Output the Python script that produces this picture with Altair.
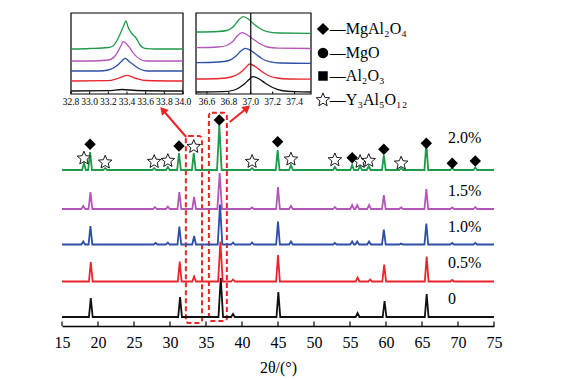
import altair as alt
import pandas as pd

FONT = "Liberation Serif"

# ---------------- main XRD patterns (2theta, intensity above own baseline) -------------
SERIES = ["2.0%", "1.5%", "1.0%", "0.5%", "0"]
COLORS = ["#1f9a4a", "#b256b8", "#2d4fa5", "#e8242c", "#111111"]
OFFSETS = [147, 108, 72.5, 35.5, 0]
LABEL_Y = [179, 126, 90, 54, 18]
LABEL_X = [68.6, 68.6, 68.6, 68.6, 68.6]

POS_20 = [18.05, 18.9, 21.0, 27.8, 29.7, 31.25, 33.3, 36.85, 41.4, 44.95, 46.8, 52.9, 55.3, 56.4, 57.6, 59.7, 62.1, 65.6, 69.2, 72.4]
H_20 = [7, 18, 2, 2, 3, 17, 17, 45, 2, 20, 5, 3, 5, 4, 4, 15, 2, 27, 2, 2.5]
POS_15 = [17.95, 18.95, 27.9, 29.7, 31.3, 33.35, 36.9, 41.4, 45.0, 46.8, 52.9, 55.3, 56.0, 57.65, 59.7, 62.1, 65.6, 69.2, 72.4]
H_15 = [3, 17, 2, 2.5, 17, 12, 36, 1.5, 22, 3, 2, 4, 4, 4, 14, 1.5, 20, 1.5, 2]
POS_10 = [17.95, 18.95, 28.0, 29.7, 31.3, 33.35, 36.95, 38.75, 41.4, 45.0, 46.8, 52.9, 55.3, 56.0, 57.65, 59.7, 62.1, 65.6, 69.2, 72.4]
H_10 = [3, 18.5, 1.5, 2, 18, 8.5, 40, 2, 2, 23, 3, 1.5, 3, 3, 3, 15, 1, 21, 1.5, 1.5]
POS_05 = [19.0, 31.35, 33.35, 37.0, 38.75, 45.0, 56.05, 57.8, 59.75, 65.65, 69.2]
H_05 = [19.5, 20, 5, 40, 2, 26.5, 4, 2, 17, 25, 1.5]
POS_00 = [19.0, 31.4, 37.05, 38.75, 45.05, 56.05, 59.8, 65.65]
H_00 = [19, 20, 39, 3, 25, 4, 16, 23]

PEAK_POS = [POS_20, POS_15, POS_10, POS_05, POS_00]
PEAK_H = [H_20, H_15, H_10, H_05, H_00]

X_TICKS = [15, 20, 25, 30, 35, 40, 45, 50, 55, 60, 65, 70, 75]

# phase markers on the 2.0% pattern
DIAMOND_X = [18.9, 31.25, 36.85, 44.95, 55.3, 59.7, 65.6, 69.2, 72.4]
DIAMOND_Y = [172.7, 171, 197, 175.3, 159.3, 167.7, 173.7, 153.7, 156]
STAR_X = [18.05, 21.0, 27.8, 29.7, 33.3, 41.4, 46.8, 52.9, 56.4, 57.6, 62.1]
STAR_Y = [158.7, 154.7, 155.3, 156.3, 170.3, 155.3, 157.7, 157, 155.3, 156.3, 153.7]

# legend
LEG_TEXT = ["—MgAl₂O₄", "—MgO", "—Al₂O₃", "—Y₃Al₅O₁₂"]
LEG_SHAPE = ["diamond", "circle", "square", "star"]
LEG_Y = [288, 264, 241, 217]

# zoom boxes and arrows
BOX_X = [32.2, 35.4]
BOX_X2 = [34.45, 37.9]
BOX_Y = [-6, -4]
BOX_Y2 = [181, 204.3]
ARROW_X = [32.25, 38.3]
ARROW_Y = [180, 195]
ARROW_X2 = [29.0, 40.7]
ARROW_Y2 = [207, 209]
ARROW_ANGLE = [319, 51]

# ---------------- inset 1 (32.8-34.0) ----------------
IN1_X_G = [32.8, 33.0, 33.2, 33.25, 33.31, 33.36, 33.39, 33.41, 33.45, 33.5, 33.54, 33.59, 33.7, 34.0]
IN1_Y_G = [45, 45.5, 46.5, 48, 56.7, 67.3, 73, 67.3, 60.7, 55.7, 49, 45.7, 45, 45]
IN1_X_P = [32.8, 33.0, 33.2, 33.28, 33.33, 33.36, 33.42, 33.47, 33.54, 33.6, 34.0]
IN1_Y_P = [33, 33, 34, 39, 47.3, 52.3, 47.3, 40.7, 34.7, 33, 33]
IN1_X_B = [32.8, 33.1, 33.2, 33.28, 33.34, 33.38, 33.43, 33.48, 33.55, 33.62, 34.0]
IN1_Y_B = [23, 23, 24, 27.5, 32.5, 35.7, 32, 28.5, 24.5, 23, 23]
IN1_X_R = [32.8, 33.2, 33.3, 33.4, 33.5, 33.6, 34.0]
IN1_Y_R = [13, 13.3, 15.5, 18.7, 15.5, 13.5, 13]
IN1_X_K = [32.8, 33.2, 33.35, 33.5, 34.0]
IN1_Y_K = [3, 3.3, 4.5, 3.5, 3]
IN1_TICKS = [32.8, 33.0, 33.2, 33.4, 33.6, 33.8, 34.0]

# ---------------- inset 2 (36.5-37.55) ----------------
IN2_X_G = [36.5, 36.7, 36.78, 36.84, 36.89, 36.93, 36.98, 37.02, 37.08, 37.15, 37.25, 37.55]
IN2_Y_G = [62, 62.5, 63.5, 67.3, 74, 77.3, 74.7, 70.7, 65.7, 62.3, 61, 60.7]
IN2_X_P = [36.5, 36.7, 36.78, 36.84, 36.88, 36.92, 36.97, 37.02, 37.08, 37.15, 37.25, 37.55]
IN2_Y_P = [46.3, 47, 48.5, 53, 58.5, 61.3, 59, 55, 50.5, 47, 45.8, 45.5]
IN2_X_B = [36.5, 36.7, 36.8, 36.86, 36.91, 36.95, 37.0, 37.05, 37.1, 37.17, 37.27, 37.55]
IN2_Y_B = [31.3, 32, 33.5, 37.5, 43, 45.7, 43.5, 39.5, 35.5, 32.3, 31, 30.7]
IN2_X_R = [36.5, 36.72, 36.82, 36.9, 36.95, 36.99, 37.04, 37.1, 37.16, 37.24, 37.35, 37.55]
IN2_Y_R = [15, 15.5, 17, 21, 26, 30, 27.5, 22.5, 18.5, 16, 15, 14.8]
IN2_X_K = [36.5, 36.75, 36.85, 36.93, 36.98, 37.02, 37.07, 37.13, 37.2, 37.28, 37.4, 37.55]
IN2_Y_K = [2, 2.3, 4, 9, 14, 17.3, 15.5, 11, 6.5, 3.5, 2.3, 2]
IN2_TICKS = [36.6, 36.8, 37.0, 37.2, 37.4]

STAR_PATH = ("M0,-1L0.264,-0.364L0.951,-0.309L0.428,0.139L0.588,0.809L0,0.45"
             "L-0.588,0.809L-0.428,0.139L-0.951,-0.309L-0.264,-0.364Z")

RED = "#ee2222"


def cscale():
    return alt.Scale(domain=SERIES, range=COLORS)


def mx():
    return alt.Scale(domain=[15, 75], nice=False, zero=False)


def my():
    return alt.Scale(domain=[-9, 307], nice=False, zero=False)


def MX(field):
    return alt.X(field, scale=mx(), axis=None)


def MY(field):
    return alt.Y(field, scale=my(), axis=None)


# ---------------- build main table ----------------
rows = []
for s, off, pos, hts in zip(SERIES, OFFSETS, PEAK_POS, PEAK_H):
    pts = [(15.0, off)]
    for p, h in sorted(zip(pos, hts)):
        w = 0.32 if h > 30 else 0.26
        pts += [(p - w, off), (p, off + h), (p + w, off)]
    pts.append((75.0, off))
    for i, (x, y) in enumerate(pts):
        rows.append({"s": s, "x": x, "y": y, "i": i})
main_df = pd.DataFrame(rows)

layers = []

box_df = pd.DataFrame({"x": BOX_X, "x2": BOX_X2, "y": BOX_Y, "y2": BOX_Y2})
layers.append(alt.Chart(box_df).mark_rect(fillOpacity=0, fill="white", stroke=RED, strokeWidth=2,
                                          strokeDash=[5, 3], cornerRadius=3).encode(
    x=MX("x:Q"), x2="x2:Q", y=MY("y:Q"), y2="y2:Q"))

arr_df = pd.DataFrame({"x": ARROW_X, "y": ARROW_Y, "x2": ARROW_X2, "y2": ARROW_Y2, "a": ARROW_ANGLE})
layers.append(alt.Chart(arr_df).mark_rule(color=RED, strokeWidth=2).encode(
    x=MX("x:Q"), y=MY("y:Q"), x2="x2:Q", y2="y2:Q"))
layers.append(alt.Chart(arr_df).mark_point(shape="triangle-up", filled=True, color=RED,
                                           size=80, opacity=1).encode(
    x=MX("x2:Q"), y=MY("y2:Q"), angle=alt.Angle("a:Q", scale=None)))

layers.append(alt.Chart(main_df).mark_line(strokeWidth=1.8).encode(
    x=alt.X("x:Q", scale=mx(), axis=alt.Axis(
        orient="bottom", values=X_TICKS, ticks=False, grid=False, domainColor="black", domainWidth=1.4,
        labelFont=FONT, labelFontSize=16, labelColor="black", labelPadding=8,
        labelFlush=False, format="d", title="2θ/(°)", titleFont=FONT,
        titleFontSize=16, titleFontWeight="normal", titleColor="black", titlePadding=9)),
    y=MY("y:Q"),
    color=alt.Color("s:N", scale=cscale(), legend=None),
    order=alt.Order("i:Q"),
))

tick_df = pd.DataFrame({"x": X_TICKS, "y0": [-9] * len(X_TICKS), "y1": [-4.5] * len(X_TICKS)})
layers.append(alt.Chart(tick_df).mark_rule(color="black", strokeWidth=1.2).encode(
    x=MX("x:Q"), y=MY("y0:Q"), y2="y1:Q"))

lab_df = pd.DataFrame({"s": SERIES, "x": LABEL_X, "y": LABEL_Y})
layers.append(alt.Chart(lab_df).mark_text(font=FONT, fontSize=16, align="left", baseline="middle",
                                          color="black").encode(
    x=MX("x:Q"), y=MY("y:Q"), text="s:N"))

dia_df = pd.DataFrame({"x": DIAMOND_X, "y": DIAMOND_Y})
layers.append(alt.Chart(dia_df).mark_point(shape="diamond", filled=True, color="black", size=130,
                                           opacity=1).encode(x=MX("x:Q"), y=MY("y:Q")))

star_df = pd.DataFrame({"x": STAR_X, "y": STAR_Y})
layers.append(alt.Chart(star_df).mark_point(shape=STAR_PATH, filled=True, fill="white", stroke="black",
                                            strokeWidth=0.9, size=200, opacity=1).encode(
    x=MX("x:Q"), y=MY("y:Q")))

# legend
for t, shp, yy in zip(LEG_TEXT, LEG_SHAPE, LEG_Y):
    d = pd.DataFrame({"x": [51.25], "xt": [52.2], "y": [yy], "t": [t]})
    if shp == "star":
        m = alt.Chart(d).mark_point(shape=STAR_PATH, filled=True, fill="white", stroke="black",
                                    strokeWidth=0.9, size=200, opacity=1)
    else:
        sz = {"diamond": 150, "circle": 110, "square": 90}[shp]
        m = alt.Chart(d).mark_point(shape=shp, filled=True, color="black", size=sz, opacity=1)
    layers.append(m.encode(x=MX("x:Q"), y=MY("y:Q")))
    layers.append(alt.Chart(d).mark_text(font=FONT, fontSize=16, align="left", baseline="middle",
                                         color="black").encode(x=MX("xt:Q"), y=MY("y:Q"), text="t:N"))


# ---------------- insets ----------------
def inset(curves_x, curves_y, dom, rng, tick_vals, vline=None):
    def IX(f):
        return alt.X(f, scale=alt.Scale(domain=dom, range=rng, nice=False, zero=False), axis=None)

    def IY(f):
        return alt.Y(f, scale=alt.Scale(domain=[0, 81], range=[84, 3], nice=False, zero=False), axis=None)

    out = []
    fr_df = pd.DataFrame({"x": [dom[0]], "x2": [dom[1]], "y": [0], "y2": [81]})
    out.append(alt.Chart(fr_df).mark_rect(fill="white", stroke="black", strokeWidth=1.2).encode(
        x=IX("x:Q"), x2="x2:Q", y=IY("y:Q"), y2="y2:Q"))
    r = []
    for s, cx, cy in zip(SERIES, curves_x, curves_y):
        for i, (a, b) in enumerate(zip(cx, cy)):
            r.append({"s": s, "x": a, "y": b, "i": i})
    df = pd.DataFrame(r)
    out.append(alt.Chart(df).mark_line(strokeWidth=1.3, interpolate="monotone").encode(
        x=IX("x:Q"), y=IY("y:Q"),
        color=alt.Color("s:N", scale=cscale(), legend=None), order=alt.Order("i:Q")))
    tk_df = pd.DataFrame({"x": tick_vals, "y": [0] * len(tick_vals), "y2": [2.5] * len(tick_vals),
                          "ly": [-7.5] * len(tick_vals), "t": [f"{v:.1f}" for v in tick_vals]})
    out.append(alt.Chart(tk_df).mark_rule(color="black", strokeWidth=1).encode(
        x=IX("x:Q"), y=IY("y:Q"), y2="y2:Q"))
    out.append(alt.Chart(tk_df).mark_text(font=FONT, fontSize=9.5, baseline="middle", color="black").encode(
        x=IX("x:Q"), y=IY("ly:Q"), text="t:N"))
    if vline is not None:
        v_df = pd.DataFrame({"x": [vline], "y": [0], "y2": [81]})
        out.append(alt.Chart(v_df).mark_rule(color="black", strokeWidth=1.2).encode(
            x=IX("x:Q"), y=IY("y:Q"), y2="y2:Q"))
    return out


layers += inset([IN1_X_G, IN1_X_P, IN1_X_B, IN1_X_R, IN1_X_K],
                [IN1_Y_G, IN1_Y_P, IN1_Y_B, IN1_Y_R, IN1_Y_K],
                [32.8, 34.0], [9, 121], IN1_TICKS)
layers += inset([IN2_X_G, IN2_X_P, IN2_X_B, IN2_X_R, IN2_X_K],
                [IN2_Y_G, IN2_Y_P, IN2_Y_B, IN2_Y_R, IN2_Y_K],
                [36.5, 37.55], [134, 249], IN2_TICKS, vline=37.0)

chart = alt.layer(*layers).resolve_scale(x="independent", y="independent").properties(
    width=432, height=316,
    autosize=alt.AutoSizeParams(type="none"),
    padding={"left": 54, "top": 2, "right": 70, "bottom": 54},
    background="white",
).configure_view(stroke=None)

chart.save("out.html", embed_options={"renderer": "svg", "actions": False})
